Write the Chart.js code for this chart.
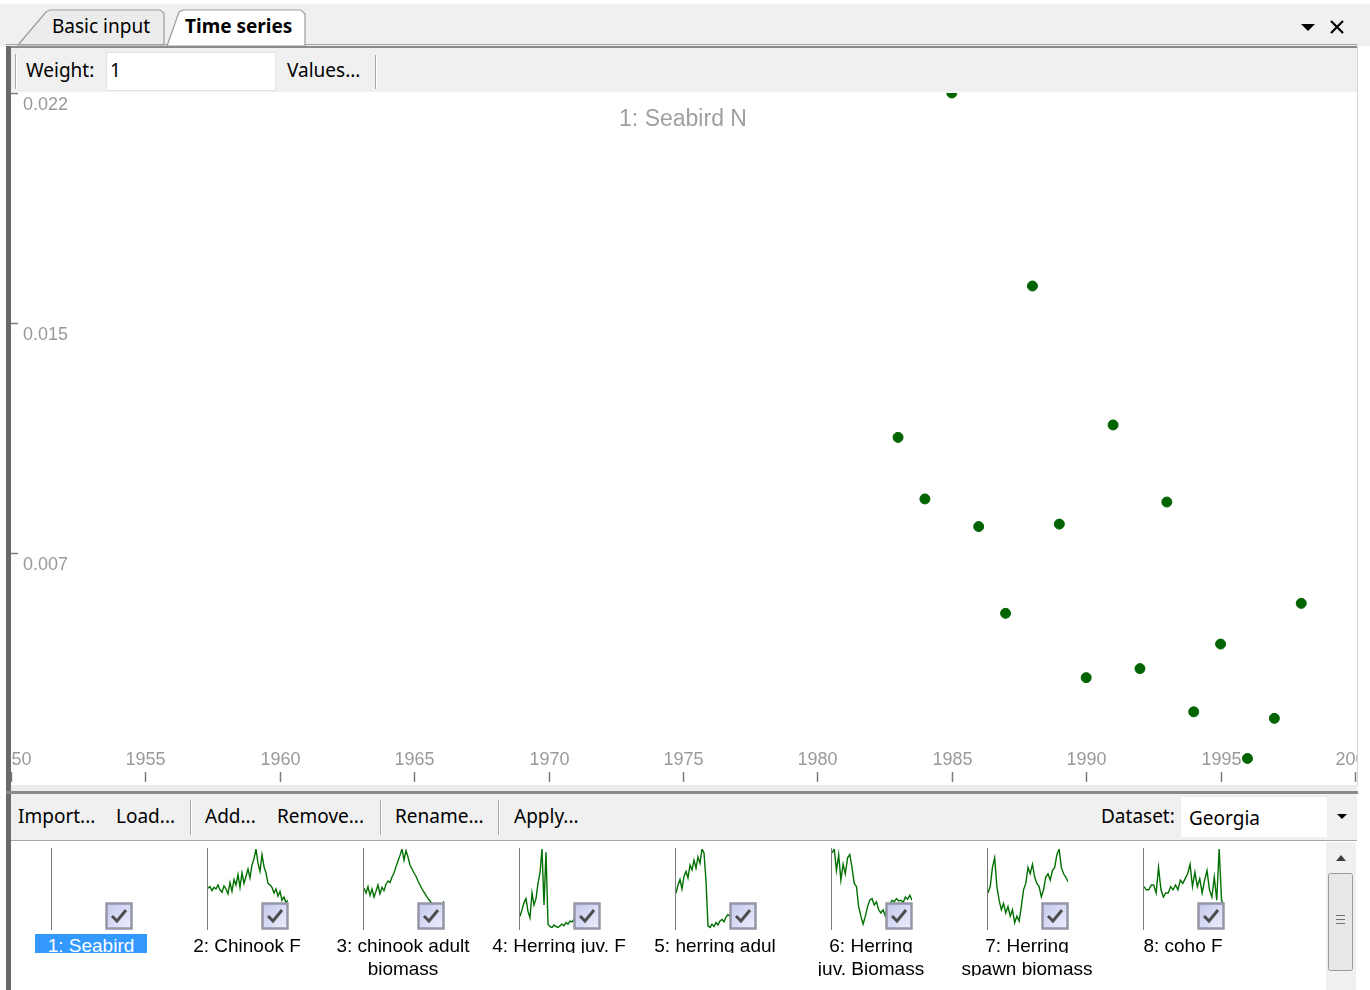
<!DOCTYPE html>
<html>
<head>
<meta charset="utf-8">
<script src="https://cdn.jsdelivr.net/npm/chart.js@4.4.0/dist/chart.umd.min.js"></script>
<style>
body{margin:0;width:1370px;height:990px;position:relative;overflow:hidden;background:#fff;font-family:"Noto Sans",sans-serif;font-size:19px;color:#000}
.a{position:absolute;white-space:nowrap}
.t{position:absolute;white-space:nowrap;line-height:24px;height:24px}
.sep{position:absolute;width:1px;background:#a8a8a8;border-right:1px solid #fff}
.lbl{position:absolute;width:160px;text-align:center;font-family:"Liberation Sans",sans-serif;font-size:19px;line-height:23px;height:19px;overflow:hidden;white-space:nowrap;color:#000}
</style>
</head>
<body>
<!-- tab strip -->
<div class="a" style="left:0;top:4px;width:1370px;height:42px;background:#f0f0f0"></div>
<svg class="a" style="left:0;top:0" width="1370" height="50">
  <polygon points="18,45 46,12 50,10 160,10 164,13 164,45" fill="#ececec" stroke="#9c9c9c" stroke-width="1.2"/>
  <polygon points="167,46 179,12 183,10 301,10 305,14 305,46" fill="#fff" stroke="#9c9c9c" stroke-width="1.2"/>
  <line x1="6" y1="44.5" x2="167" y2="44.5" stroke="#a0a0a0"/>
  <line x1="305" y1="44.5" x2="1357" y2="44.5" stroke="#a0a0a0"/>
  <rect x="6" y="46" width="1352" height="2" fill="#8a8a8a"/>
  <path d="M1301,24 L1315,24 L1308,31 Z" fill="#000"/>
  <path d="M1331,21 L1343,33 M1343,21 L1331,33" stroke="#000" stroke-width="2.2"/>
</svg>
<div class="t" style="left:52px;top:14px">Basic input</div>
<div class="t" style="left:185px;top:14px;font-weight:bold">Time series</div>

<!-- left border -->
<div class="a" style="left:6px;top:46px;width:5px;height:944px;background:#6a6a6a"></div>

<!-- toolbar 1 -->
<div class="a" style="left:11px;top:48px;width:1346px;height:44px;background:#f0f0f0"></div>
<div class="sep" style="left:15px;top:54px;height:35px"></div>
<div class="t" style="left:26px;top:58px">Weight:</div>
<div class="a" style="left:106px;top:52px;width:168px;height:37px;background:#fff;border:1px solid #e2e2e2"></div>
<div class="t" style="left:110px;top:58px">1</div>
<div class="t" style="left:287px;top:58px">Values...</div>
<div class="sep" style="left:375px;top:55px;height:34px"></div>

<!-- main chart -->
<div class="a" style="left:1357px;top:46px;width:1px;height:740px;background:#d6d6d6"></div>
<canvas id="main" class="a" style="left:11px;top:92px" width="1346" height="693"></canvas>

<!-- splitter -->
<div class="a" style="left:11px;top:785px;width:1346px;height:6px;background:#ececec"></div>
<div class="a" style="left:6px;top:791px;width:1352px;height:3px;background:#8a8a8a"></div>

<!-- toolbar 2 -->
<div class="a" style="left:11px;top:794px;width:1346px;height:46px;background:#f0f0f0"></div>
<div class="t" style="left:18px;top:804px">Import...</div>
<div class="t" style="left:116px;top:804px">Load...</div>
<div class="sep" style="left:190px;top:800px;height:35px"></div>
<div class="t" style="left:205px;top:804px">Add...</div>
<div class="t" style="left:277px;top:804px">Remove...</div>
<div class="sep" style="left:380px;top:800px;height:35px"></div>
<div class="t" style="left:395px;top:804px">Rename...</div>
<div class="sep" style="left:498px;top:800px;height:35px"></div>
<div class="t" style="left:514px;top:804px">Apply...</div>
<div class="t" style="left:1101px;top:804px">Dataset:</div>
<div class="a" style="left:1181px;top:797px;width:146px;height:40px;background:#fff"></div>
<div class="t" style="left:1189px;top:806px">Georgia</div>
<svg class="a" style="left:1335px;top:812px" width="14" height="10"><path d="M2,2 L12,2 L7,7 Z" fill="#000"/></svg>

<!-- thumbnails area -->
<div class="a" style="left:11px;top:840px;width:1346px;height:1px;background:#a8a8a8"></div>
<div id="thumbs"></div>

<!-- scrollbar -->
<div class="a" style="left:1326px;top:842px;width:30px;height:148px;background:#f0f0f0"></div>
<svg class="a" style="left:1326px;top:842px" width="30" height="148">
  <path d="M10,19 L20,19 L15,13 Z" fill="#404040"/>
  <rect x="2.5" y="31.5" width="24" height="97" rx="2" fill="#e8e8e8" stroke="#9a9a9a"/>
  <path d="M10,73.5 L19,73.5 M10,77.5 L19,77.5 M10,81.5 L19,81.5" stroke="#707070"/>
</svg>

<script>
// Main plot: 1: Seabird N
const years = [1983, 1984, 1985, 1986, 1987, 1988, 1989, 1990, 1991, 1992, 1993, 1994, 1995, 1996, 1997, 1998];
const seabirdN = [0.01112, 0.00914, 0.0222, 0.00825, 0.00546, 0.01599, 0.00833, 0.00339, 0.01152, 0.00368, 0.00904, 0.00229, 0.00447, 0.00079, 0.00208, 0.00578];
const xTicks = [1950, 1955, 1960, 1965, 1970, 1975, 1980, 1985, 1990, 1995, 2000];
const xTickLabels = ['1950', '1955', '1960', '1965', '1970', '1975', '1980', '1985', '1990', '1995', '2000'];
const yTicks = [0.0074, 0.0148, 0.0222];
const yTickLabels = ['0.007', '0.015', '0.022'];
const plotTitle = '1: Seabird N';

// Thumbnails (relative values, each scaled to its own max)
const thumbLabels = [
  ['1: Seabird'], ['2: Chinook F'], ['3: chinook adult', 'biomass'], ['4: Herring juv. F'],
  ['5: herring adul'], ['6: Herring', 'juv. Biomass'], ['7: Herring', 'spawn biomass'], ['8: coho F']
];
const seabirdThumb = [];
const chinookF = [51, 53, 48, 52, 50, 55, 49, 46, 54, 50, 44, 58, 47, 62, 55, 68, 52, 70, 57, 66, 75, 64, 80, 88, 100, 82, 72, 93, 78, 70, 57, 55, 52, 45, 50, 41, 47, 36, 40, 33, 36];
const chinookAdultBiomass = [51, 45, 53, 42, 50, 40, 47, 55, 44, 52, 48, 56, 60, 58, 65, 70, 78, 85, 92, 100, 86, 98, 90, 80, 75, 70, 66, 60, 55, 50, 46, 42, 38, 35, 32, 30, 28, 26, 25, 27, 35];
const herringJuvF = [16, 24, 33, 38, 22, 14, 45, 30, 38, 57, 70, 100, 30, 96, 6, 3, 2, 5, 3, 2, 4, 6, 4, 8, 6, 10, 9, 12, 10, 8, 11, 13, 10, 9, 12, 14, 11, 10, 13, 12, 11];
const herringAdultBiomass = [45, 55, 62, 50, 66, 72, 64, 80, 74, 86, 76, 90, 82, 100, 95, 60, 4, 2, 6, 3, 8, 5, 10, 12, 9, 15, 18, 16, 20, 18, 22, 19, 24, 21, 23, 20, 25, 22, 24, 21, 26];
const herringJuvBiomass = [95, 100, 73, 93, 61, 81, 69, 89, 93, 77, 57, 53, 28, 16, 6, 16, 28, 36, 38, 30, 34, 24, 20, 24, 16, 32, 30, 36, 34, 38, 35, 36, 33, 40, 37, 42, 36];
const herringSpawnBiomass = [45, 53, 77, 89, 53, 36, 24, 32, 20, 28, 16, 24, 8, 16, 10, 28, 49, 57, 77, 69, 81, 65, 57, 53, 40, 49, 65, 69, 61, 73, 77, 93, 100, 77, 69, 65, 59];
const cohoF = [53, 49, 49, 55, 55, 45, 77, 49, 40, 45, 45, 53, 49, 55, 49, 61, 57, 63, 69, 81, 53, 71, 53, 63, 45, 61, 73, 49, 40, 65, 36, 100, 36, 30];
const thumbSeries = [seabirdThumb, chinookF, chinookAdultBiomass, herringJuvF, herringAdultBiomass, herringJuvBiomass, herringSpawnBiomass, cohoF];

const axisMarks = {
  id: 'axisMarks',
  beforeDatasetsDraw(chart) {
    const {ctx, chartArea, scales: {x, y}} = chart;
    ctx.save();
    ctx.strokeStyle = '#7c7c7c';
    ctx.lineWidth = 1.5;
    ctx.fillStyle = '#9a9a9a';
    ctx.font = '18px "Liberation Sans"';
    ctx.textAlign = 'center';
    ctx.textBaseline = 'middle';
    xTicks.forEach((v, i) => {
      const px = Math.round(x.getPixelForValue(v)) + 0.5;
      ctx.beginPath();
      ctx.moveTo(px, chartArea.bottom - 11);
      ctx.lineTo(px, chartArea.bottom - 1);
      ctx.stroke();
      ctx.fillText(xTickLabels[i], px, chartArea.bottom - 23);
    });
    ctx.textAlign = 'left';
    yTicks.forEach((v, i) => {
      const py = Math.round(y.getPixelForValue(v)) + 0.5;
      ctx.beginPath();
      ctx.moveTo(chartArea.left, py);
      ctx.lineTo(chartArea.left + 7, py);
      ctx.stroke();
      ctx.fillText(yTickLabels[i], chartArea.left + 12, py + 12);
    });
    ctx.fillStyle = '#a0a0a0';
    ctx.font = '23px "Liberation Sans"';
    ctx.textAlign = 'center';
    ctx.fillText(plotTitle, (chartArea.left + chartArea.right) / 2, chartArea.top + 27);
    ctx.restore();
  }
};

new Chart(document.getElementById('main'), {
  type: 'scatter',
  data: {
    datasets: [{
      data: years.map((yr, i) => ({x: yr, y: seabirdN[i]})),
      backgroundColor: '#006400',
      borderColor: '#006400',
      pointRadius: 5,
      pointHoverRadius: 5,
      clip: 0
    }]
  },
  options: {
    responsive: false,
    animation: false,
    events: [],
    layout: {autoPadding: false, padding: {left: 0, right: 2, top: 1, bottom: 2}},
    plugins: {legend: {display: false}, tooltip: {enabled: false}},
    scales: {
      x: {type: 'linear', min: 1950, max: 2000, display: false},
      y: {type: 'linear', min: 0, max: 0.0222, display: false}
    }
  },
  plugins: [axisMarks]
});

// thumbnails
const holder = document.getElementById('thumbs');
thumbSeries.forEach((series, i) => {
  const ax = 51 + 156 * i;
  let html = '<div class="a" style="left:' + ax + 'px;top:848px;width:1px;height:82px;background:#7a7a7a"></div>';
  html += '<canvas id="th' + i + '" class="a" style="left:' + (ax + 1) + 'px;top:848px" width="80" height="82"></canvas>';
  html += '<svg class="a" style="left:' + (ax + 54) + 'px;top:902px" width="28" height="28">' +
    '<defs><linearGradient id="g' + i + '" x1="0" y1="0" x2="1" y2="1"><stop offset="0" stop-color="#c4c8ee"/><stop offset="1" stop-color="#eceefd"/></linearGradient></defs>' +
    '<rect x="1.5" y="1.5" width="25" height="25" fill="url(#g' + i + ')" stroke="#9496a6" stroke-width="2.5"/>' +
    '<path d="M7,14 L12,19 L21,8" fill="none" stroke="#4e4e4e" stroke-width="3"/></svg>';
  thumbLabels[i].forEach((line, j) => {
    const sel = i === 0;
    html += '<div class="lbl" style="left:' + (ax - 40) + 'px;top:' + (934 + 23 * j) + 'px">' +
      (sel ? '<span style="background:#3399ff;color:#fff;padding:0 13px;display:inline-block;height:21px">' + line + '</span>' : line) + '</div>';
  });
  holder.insertAdjacentHTML('beforeend', html);
});

thumbSeries.forEach((series, i) => {
  if (!series.length) return;
  new Chart(document.getElementById('th' + i), {
    type: 'line',
    data: {
      labels: series.map((v, k) => k),
      datasets: [{data: series, borderColor: '#007000', borderWidth: 1.4, pointRadius: 0, tension: 0}]
    },
    options: {
      responsive: false,
      animation: false,
      events: [],
      layout: {autoPadding: false, padding: {top: 1, bottom: 1}},
      plugins: {legend: {display: false}, tooltip: {enabled: false}},
      scales: {
        x: {display: false},
        y: {display: false, min: 0, max: Math.max(...series)}
      }
    }
  });
});
</script>
</body>
</html>
